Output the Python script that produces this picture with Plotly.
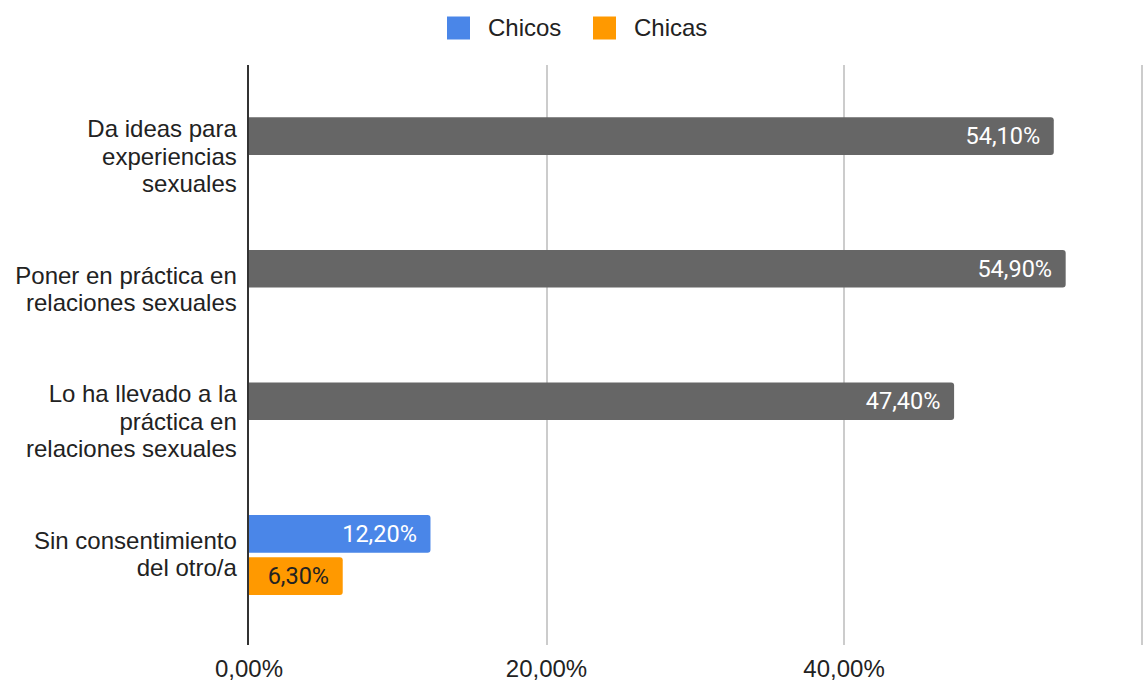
import plotly.graph_objects as go

categories = [
    "Da ideas para<br>experiencias<br>sexuales",
    "Poner en práctica en<br>relaciones sexuales",
    "Lo ha llevado a la<br>práctica en<br>relaciones sexuales",
    "Sin consentimiento<br>del otro/a",
]
chicos = [54.1, 54.9, 47.4, 12.2]
chicas = [None, None, None, 6.3]
chicos_colors = ["#666666", "#666666", "#666666", "#4a86e8"]
legend_names = ["Chicos", "Chicas"]
legend_colors = ["#4a86e8", "#ff9900"]
x_tickvals = [0, 20, 40, 60]
x_ticktext = ["0,00%", "20,00%", "40,00%", ""]

W, H = 1146, 682
L, R, T, B = 249, 0, 65, 37

# tick labels: 24px glyphs with tighter (21px-based) line spacing
y_ticktext = [
    "<br>".join('<span style="font-size:24px">%s</span>' % ln for ln in c.split("<br>"))
    for c in categories
]

label_pad = "\u00a0\u2009"

fig = go.Figure()
fig.add_trace(go.Bar(
    y=categories, x=chicos, orientation="h", name=legend_names[0],
    marker=dict(color=chicos_colors, line=dict(width=0)),
    texttemplate="%{x:.2f}%" + label_pad, textposition="inside", insidetextanchor="end",
    textfont=dict(family="Roboto", size=23.5, color="white"),
    showlegend=False,
))
fig.add_trace(go.Bar(
    y=categories, x=chicas, orientation="h", name=legend_names[1],
    marker=dict(color=legend_colors[1], line=dict(width=0)),
    texttemplate="%{x:.2f}%" + label_pad, textposition="inside", insidetextanchor="end",
    textfont=dict(family="Roboto", size=23.5, color="#222222"),
    showlegend=False,
))

# custom legend (larger squares than plotly's legend allows)
pw, ph = W - L - R, H - T - B
def px_x(px):
    return (px - L) / pw
def px_y(py):
    return (H - B - py) / ph

legend_sq_left = [447, 593]
legend_txt_left = [486, 632]
leg_y = 28
for nm, col, sx, tx in zip(legend_names, legend_colors, legend_sq_left, legend_txt_left):
    fig.add_shape(
        type="rect", xref="paper", yref="paper",
        x0=px_x(sx), x1=px_x(sx + 23), y0=px_y(leg_y + 11.5), y1=px_y(leg_y - 11.5),
        fillcolor=col, line=dict(width=0), layer="above",
    )
    fig.add_annotation(
        xref="paper", yref="paper", x=px_x(tx), y=px_y(leg_y),
        xanchor="left", yanchor="middle", text=nm, showarrow=False,
        font=dict(size=24, color="#222222"),
    )

fig.update_layout(
    width=W, height=H,
    margin=dict(l=L, r=R, t=T, b=B, autoexpand=False),
    paper_bgcolor="white", plot_bgcolor="white",
    barmode="group", bargap=0.3625, bargroupgap=0.109,
    barcornerradius=3,
    separators=",.",
    showlegend=False,
    font=dict(family="Liberation Sans, Arial, sans-serif", size=24, color="#222222"),
    xaxis=dict(
        range=[0, 60.3], tickvals=x_tickvals, ticktext=x_ticktext,
        showgrid=True, gridcolor="#cccccc", gridwidth=1.5,
        zeroline=False, showline=False, automargin=False,
        ticks="outside", ticklen=2, tickcolor="rgba(0,0,0,0)",
        tickfont=dict(size=24, color="#222222"),
    ),
    yaxis=dict(
        range=[3.679, -0.696], showgrid=False, zeroline=False,
        showline=True, linecolor="#333333", linewidth=2, automargin=False,
        tickvals=categories, ticktext=y_ticktext,
        ticks="outside", ticklen=6, tickcolor="rgba(0,0,0,0)",
        tickfont=dict(size=21, color="#222222"),
    ),
)

fig.write_html(
    "out.html",
    config={"displayModeBar": False},
    post_script="document.body.style.margin='0';document.body.style.overflow='hidden';",
)
